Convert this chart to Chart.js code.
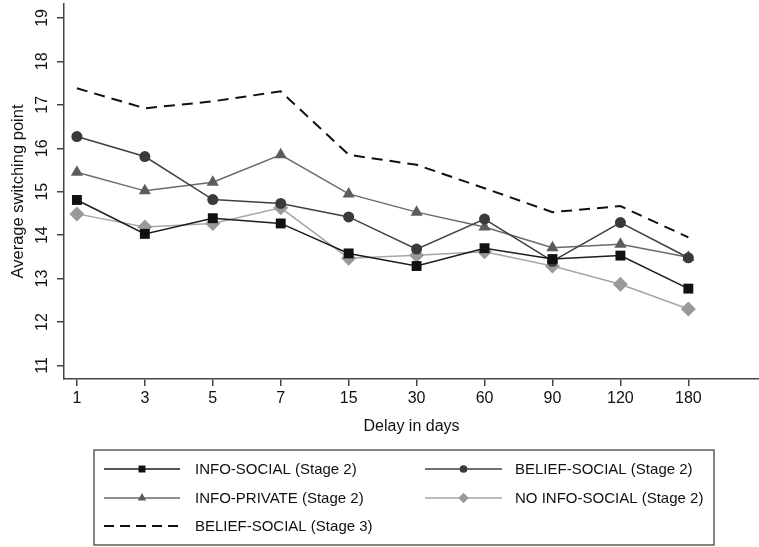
<!DOCTYPE html>
<html>
<head>
<meta charset="utf-8">
<script src="https://cdn.jsdelivr.net/npm/chart.js@4.4.1/dist/chart.umd.min.js"></script>
<style>
  html, body { margin: 0; padding: 0; background: #fff; }
  #wrap { width: 759px; height: 547px; }
</style>
</head>
<body>
<div id="wrap"><canvas id="switchChart" width="759" height="547"></canvas></div>
<script>
// Delay categories (x axis)
const delays = ['1', '3', '5', '7', '15', '30', '60', '90', '120', '180'];

// Average switching point per group
const infoSocial = [14.81, 14.03, 14.39, 14.27, 13.58, 13.29, 13.70, 13.45, 13.53, 12.77];
const beliefSocial = [16.27, 15.81, 14.82, 14.73, 14.42, 13.68, 14.37, 13.40, 14.29, 13.48];
const infoPrivate = [15.45, 15.02, 15.22, 15.85, 14.95, 14.53, 14.19, 13.71, 13.79, 13.49];
const noInfoSocial = [14.49, 14.19, 14.27, 14.63, 13.47, 13.54, 13.62, 13.29, 12.87, 12.30];
const beliefSocialStage3 = [17.38, 16.92, 17.08, 17.31, 15.85, 15.62, 15.08, 14.53, 14.67, 13.95];

const yTicks = [11, 12, 13, 14, 15, 16, 17, 18, 19];

const FONT = "'Liberation Sans', Arial, Helvetica, sans-serif";

const toPoints = (arr) => arr.map((v, i) => ({ x: i, y: v }));

const series = [
    { label: 'INFO-SOCIAL (Stage 2)', data: infoSocial, color: '#1c1c1c', marker: '#111111', style: 'rect', r: 7, col: 0, row: 0 },
    { label: 'BELIEF-SOCIAL (Stage 2)', data: beliefSocial, color: '#404040', marker: '#3a3a3a', style: 'circle', r: 5.5, col: 1, row: 0 },
    { label: 'INFO-PRIVATE (Stage 2)', data: infoPrivate, color: '#6a6a6a', marker: '#5c5c5c', style: 'triangle', r: 7, col: 0, row: 1 },
    { label: 'NO INFO-SOCIAL (Stage 2)', data: noInfoSocial, color: '#a6a6a6', marker: '#999999', style: 'rectRot', r: 7.5, col: 1, row: 1 },
    { label: 'BELIEF-SOCIAL (Stage 3)', data: beliefSocialStage3, color: '#111111', marker: '#111111', style: false, r: 0, dash: [11, 7], col: 0, row: 2 }
];

// Boxed two-column legend under the axis
const boxLegend = {
    id: 'boxLegend',
    afterDraw(chart) {
        const ctx = chart.ctx;
        const box = { left: 94, top: 450, right: 714, bottom: 545 };
        const cols = [{ line: 104, lineEnd: 180, text: 195 }, { line: 425, lineEnd: 502, text: 515 }];
        const rows = [469, 498, 526];
        ctx.save();
        ctx.strokeStyle = '#333';
        ctx.lineWidth = 1.2;
        ctx.strokeRect(box.left, box.top, box.right - box.left, box.bottom - box.top);
        ctx.font = '15px ' + FONT;
        ctx.textBaseline = 'middle';
        ctx.textAlign = 'left';
        series.forEach((s) => {
            const c = cols[s.col];
            const y = rows[s.row];
            ctx.strokeStyle = s.color;
            ctx.lineWidth = s.dash ? 2 : 1.5;
            ctx.setLineDash(s.dash ? [10, 6] : []);
            ctx.beginPath();
            ctx.moveTo(c.line, y);
            ctx.lineTo(c.lineEnd, y);
            ctx.stroke();
            ctx.setLineDash([]);
            if (s.style) {
                ctx.fillStyle = s.marker;
                ctx.strokeStyle = s.marker;
                Chart.helpers.drawPoint(ctx, { pointStyle: s.style, radius: s.r * 0.7, borderWidth: 0 }, (c.line + c.lineEnd) / 2, y);
            }
            ctx.fillStyle = '#111';
            ctx.fillText(s.label, c.text, y + 1);
        });
        ctx.restore();
    }
};

const noPad = (scale) => {
    scale.paddingLeft = 0;
    scale.paddingRight = 0;
    scale.paddingTop = 0;
    scale.paddingBottom = 0;
};

new Chart(document.getElementById('switchChart'), {
    type: 'line',
    data: {
        datasets: series.map((s) => ({
            label: s.label,
            data: toPoints(s.data),
            borderColor: s.color,
            backgroundColor: s.marker,
            pointBackgroundColor: s.marker,
            pointBorderColor: s.marker,
            pointBorderWidth: 0,
            pointStyle: s.style || 'circle',
            pointRadius: s.r,
            pointHoverRadius: s.r,
            borderWidth: s.dash ? 2 : 1.5,
            borderDash: s.dash || [],
            tension: 0,
            fill: false
        }))
    },
    options: {
        responsive: false,
        animation: false,
        devicePixelRatio: 1,
        layout: { autoPadding: false, padding: { top: 4, right: 0, left: 0, bottom: 108 } },
        plugins: {
            legend: { display: false },
            tooltip: { enabled: false }
        },
        scales: {
            x: {
                type: 'linear',
                min: -0.19,
                max: 10.04,
                afterBuildTicks: (scale) => {
                    scale.ticks = delays.map((_, i) => ({ value: i }));
                },
                afterFit: (scale) => { scale.height = 60; noPad(scale); },
                ticks: {
                    callback: (v) => delays[v],
                    color: '#111',
                    font: { family: FONT, size: 16 },
                    padding: 3,
                    autoSkip: false,
                    maxRotation: 0
                },
                grid: { display: true, drawOnChartArea: false, drawTicks: true, tickLength: 7, color: '#444', lineWidth: 1.5 },
                border: { display: true, color: '#444', width: 1.5 },
                title: {
                    display: true,
                    text: 'Delay in days',
                    color: '#111',
                    font: { family: FONT, size: 16 },
                    padding: { top: 0, bottom: 3 }
                }
            },
            y: {
                min: 10.69,
                max: 19.32,
                afterBuildTicks: (scale) => {
                    scale.ticks = yTicks.map((v) => ({ value: v }));
                },
                afterFit: (scale) => { scale.width = 64; noPad(scale); },
                ticks: {
                    color: '#111',
                    font: { family: FONT, size: 16 },
                    minRotation: 90,
                    maxRotation: 90,
                    crossAlign: 'center',
                    padding: 6,
                    autoSkip: false
                },
                grid: { display: true, drawOnChartArea: false, drawTicks: true, tickLength: 7, color: '#444', lineWidth: 1.5 },
                border: { display: true, color: '#444', width: 1.5 },
                title: {
                    display: true,
                    text: 'Average switching point',
                    color: '#111',
                    font: { family: FONT, size: 16.5 },
                    padding: { top: 9, bottom: 0 }
                }
            }
        }
    },
    plugins: [boxLegend]
});
</script>
</body>
</html>
